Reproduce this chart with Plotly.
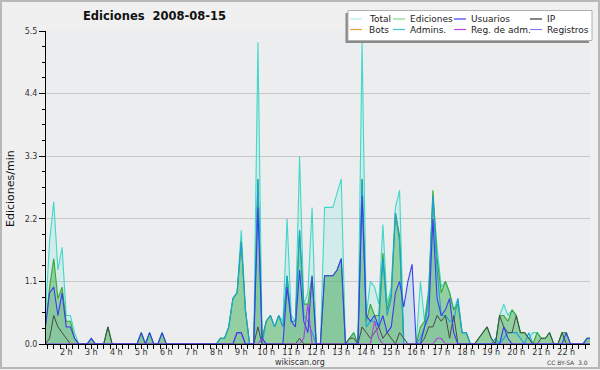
import plotly.graph_objects as go

# ---------------- data (edits per minute, 10-minute bins from 01:00 to 23:00) ----------------
# each row = one hour: [H:00, H:10, H:20, H:30, H:40, H:50]
total = [
    0, 0.5, 1.8, 2.5, 1.3, 1.7,      # 1 h
    0.5, 0.5, 0.2, 0, 0, 0,          # 2 h
    0.1, 0, 0, 0, 0.3, 0,            # 3 h
    0, 0, 0, 0, 0, 0,                # 4 h
    0.2, 0, 0.2, 0, 0, 0.2,          # 5 h
    0, 0, 0, 0, 0, 0,                # 6 h
    0, 0, 0, 0, 0, 0,                # 7 h
    0, 0.1, 0.1, 0.3, 0.8, 0.9,      # 8 h
    2.0, 0.6, 0, 0, 5.3, 0.1,        # 9 h
    0.4, 0.5, 0.3, 0.5, 0.4, 2.2,    # 10 h
    0.5, 0.4, 3.3, 0.7, 0.9, 2.4,    # 11 h
    0, 0, 2.4, 2.4, 2.4, 2.65,       # 12 h
    2.9, 0, 0.1, 0.2, 0, 5.3,        # 13 h
    0.5, 1.1, 1.0, 0.7, 2.1, 0.7,    # 14 h
    1.0, 2.4, 2.7, 0.1, 0, 0,        # 15 h
    0, 1.1, 0.4, 1.0, 2.6, 1.7,      # 16 h
    1.0, 1.1, 0.9, 0.6, 0.8, 0.2,    # 17 h
    0.2, 0, 0, 0.1, 0.2, 0.3,        # 18 h
    0.1, 0, 0.5, 0.7, 0.5, 0.6,      # 19 h
    0.5, 0.2, 0.2, 0.1, 0.2, 0.2,    # 20 h
    0.1, 0.1, 0.2, 0, 0, 0.2,        # 21 h
    0.2, 0, 0, 0, 0, 0.1,            # 22 h
    0.1,                             # 23 h
]
ediciones = [
    0, 0.3, 1.0, 1.5, 0.8, 1.0,
    0.4, 0.4, 0.1, 0, 0, 0,
    0.1, 0, 0, 0, 0.3, 0,
    0, 0, 0, 0, 0, 0,
    0.2, 0, 0.2, 0, 0, 0.2,
    0, 0, 0, 0, 0, 0,
    0, 0, 0, 0, 0, 0,
    0, 0.1, 0.1, 0.3, 0.8, 0.9,
    1.8, 0.6, 0, 0, 2.9, 0.1,
    0.4, 0.5, 0.3, 0.5, 0.3, 1.2,
    0.4, 0.4, 2.0, 0.7, 0.7, 1.2,
    0, 0, 1.2, 1.2, 1.2, 1.3,
    1.5, 0, 0.1, 0.2, 0, 2.9,
    0.4, 0.7, 0.5, 0.5, 1.6, 0.6,
    0.9, 2.3, 1.9, 0, 0, 0,
    0, 0.3, 0.4, 0.9, 2.7, 1.5,
    0.9, 1.1, 0.9, 0.6, 0.7, 0.2,
    0.2, 0, 0, 0.1, 0.2, 0.3,
    0.1, 0, 0.5, 0.5, 0.4, 0.6,
    0.5, 0.2, 0.2, 0.1, 0, 0.2,
    0.1, 0.1, 0.2, 0, 0, 0.2,
    0.2, 0, 0, 0, 0, 0.1,
    0.1,
]
usuarios = [
    0, 0.3, 0.9, 1.0, 0.5, 0.9,
    0.3, 0.3, 0.1, 0, 0, 0,
    0.1, 0, 0, 0, 0, 0,
    0, 0, 0, 0, 0, 0,
    0.2, 0, 0.2, 0, 0, 0.2,
    0, 0, 0, 0, 0, 0,
    0, 0, 0, 0, 0, 0,
    0, 0, 0, 0, 0, 0.2,
    0.2, 0, 0, 0, 2.4, 0.1,
    0, 0, 0, 0, 0, 1.0,
    0.4, 0.3, 1.3, 0.4, 0.2, 1.2,
    0, 0, 1.2, 1.2, 1.2, 1.3,
    1.5, 0, 0, 0, 0, 2.6,
    0.5, 0.4, 0.5, 0.3, 0.5, 0.2,
    0.3, 0.9, 1.1, 0.65, 1.1, 1.4,
    0, 0, 0.3, 0.5, 2.2, 0.8,
    0.5, 0.6, 0.8, 0.2, 0, 0,
    0, 0, 0, 0, 0, 0,
    0, 0, 0, 0.3, 0.1, 0,
    0, 0, 0, 0, 0, 0,
    0, 0, 0, 0, 0, 0,
    0.2, 0, 0, 0, 0, 0.1,
    0.1,
]
ip = [
    0, 0, 0.1, 0.5, 0.3, 0.2,
    0.1, 0, 0, 0, 0, 0,
    0, 0, 0, 0, 0.3, 0,
    0, 0, 0, 0, 0, 0,
    0, 0, 0, 0, 0, 0,
    0, 0, 0, 0, 0, 0,
    0, 0, 0, 0, 0, 0,
    0, 0, 0, 0, 0, 0,
    0, 0, 0, 0, 0.3, 0,
    0, 0, 0, 0, 0, 0,
    0, 0, 0.1, 0, 0, 0,
    0, 0, 0, 0, 0, 0,
    0, 0, 0.1, 0.1, 0, 0.3,
    0.2, 0.1, 0.2, 0.3, 0.1, 0.2,
    0.1, 0, 0.2, 0.1, 0, 0,
    0, 0, 0.1, 0.3, 0.3, 0.5,
    0.4, 0.5, 0.1, 0.5, 0, 0,
    0, 0, 0, 0.1, 0.2, 0.3,
    0.1, 0, 0.5, 0.3, 0.2, 0.2,
    0.5, 0.2, 0.2, 0.1, 0, 0,
    0.1, 0.1, 0.2, 0, 0, 0.2,
    0, 0, 0, 0, 0, 0,
    0,
]
admins = [
    0, 0, 0, 0, 0, 0,
    0, 0, 0, 0, 0, 0,
    0, 0, 0, 0, 0, 0,
    0, 0, 0, 0, 0, 0,
    0, 0, 0, 0, 0, 0,
    0, 0, 0, 0, 0, 0,
    0, 0, 0, 0, 0, 0,
    0, 0.1, 0.1, 0.3, 0.8, 0.9,
    1.8, 0.6, 0, 0, 2.9, 0,
    0.4, 0.5, 0.3, 0.5, 0.3, 1.2,
    0.4, 0.4, 2.0, 0.5, 0.4, 0.2,
    0, 0, 0, 0, 0, 0,
    0, 0, 0, 0, 0, 2.9,
    0.3, 0.4, 0.4, 0.3, 1.5, 0.5,
    0.8, 2.3, 1.8, 0, 0, 0,
    0, 0.1, 0.3, 0.8, 2.6, 1.3,
    0.5, 0.5, 0.4, 0.4, 0.8, 0.2,
    0.2, 0, 0, 0, 0, 0,
    0, 0.1, 0, 0.1, 0.2, 0.2,
    0.2, 0.1, 0, 0.2, 0, 0,
    0, 0, 0, 0, 0, 0,
    0, 0, 0, 0, 0, 0,
    0,
]
reg_adm = [
    0, 0, 0, 0, 0, 0,
    0, 0, 0, 0, 0, 0,
    0, 0, 0, 0, 0, 0,
    0, 0, 0, 0, 0, 0,
    0, 0, 0, 0, 0, 0,
    0, 0, 0, 0, 0, 0,
    0, 0, 0, 0, 0, 0,
    0, 0, 0, 0, 0, 0.2,
    0.2, 0, 0, 0, 0, 0.1,
    0, 0, 0, 0, 0, 0,
    0, 0, 0, 0.1, 0.7, 0,
    0, 0, 0, 0, 0, 0,
    0, 0, 0, 0, 0, 0,
    0, 0, 0.4, 0.1, 0, 0,
    0, 0, 0, 0, 0, 0,
    0, 0, 0, 0, 0, 0.1,
    0.1, 0, 0, 0, 0, 0,
    0, 0, 0, 0, 0, 0,
    0, 0, 0, 0, 0, 0,
    0, 0, 0, 0, 0, 0,
    0, 0, 0, 0, 0, 0,
    0, 0, 0, 0, 0, 0,
    0,
]

start_hour = 1.0
bin_hours = 1 / 6
hours = [start_hour + i * bin_hours for i in range(len(total))]

hour_ticks = list(range(2, 23))
hour_labels = [f"{h} h" for h in hour_ticks]
y_ticks = [0, 1.1, 2.2, 3.3, 4.4, 5.5]
y_labels = ["0.0", "1.1", "2.2", "3.3", "4.4", "5.5"]

legend_items = [
    ("Total", "#b4ecec"), ("Ediciones", "#88d888"), ("Usuarios", "#3c3cf0"), ("IP", "#333333"),
    ("Bots", "#f0a040"), ("Admins.", "#40c8d8"), ("Reg. de adm.", "#c040e0"), ("Registros", "#8080f0"),
]

# ---------------- layout helpers ----------------
W, H = 600, 370
L, R, T, B = 46, 10, 31, 26
PW, PH = W - L - R, H - T - B


def px(x):
    return (x - L) / PW


def py(y):
    return (H - B - y) / PH


FONT = "DejaVu Sans"
fig = go.Figure()

# filled areas
for vals, fc in [(total, "rgba(64,224,208,0.14)"),
                 (usuarios, "rgba(150,200,225,0.35)"),
                 (ediciones, "rgba(60,170,60,0.42)")]:
    fig.add_trace(go.Scatter(x=hours, y=vals, mode="lines", line=dict(width=0),
                             fill="tozeroy", fillcolor=fc, hoverinfo="skip", showlegend=False))

# lines
for name, vals, col, w in [("Total", total, "#40d8c8", 1.1),
                           ("Ediciones", ediciones, "#33aa33", 1.1),
                           ("Admins.", admins, "#1ea0d8", 1.1),
                           ("IP", ip, "#4a4a4a", 1.0),
                           ("Reg. de adm.", reg_adm, "#b040e0", 1.1),
                           ("Usuarios", usuarios, "#3c3cf0", 1.1)]:
    fig.add_trace(go.Scatter(x=hours, y=vals, mode="lines", name=name,
                             line=dict(color=col, width=w), showlegend=False))

shapes = []
annotations = []

# outer frame
shapes.append(dict(type="rect", xref="paper", yref="paper",
                   x0=px(1), x1=px(599), y0=py(1), y1=py(368),
                   line=dict(color="#b8b8b8", width=2), fillcolor="rgba(0,0,0,0)", layer="above"))

# legend box with shadow
shapes.append(dict(type="rect", xref="paper", yref="paper",
                   x0=px(345.5), x1=px(589), y0=py(13), y1=py(43),
                   line=dict(width=0), fillcolor="#8a8a8a", layer="above"))
shapes.append(dict(type="rect", xref="paper", yref="paper",
                   x0=px(348), x1=px(592), y0=py(10.5), y1=py(40.5),
                   line=dict(color="#b0b0b0", width=1), fillcolor="#ffffff", layer="above"))
col_sw = [350, 393, 454, 530]
col_tx = [366.5, 408, 469, 545]
row_y = [19, 29.5]
for k, (lab, col) in enumerate(legend_items):
    r, c = divmod(k, 4)
    yy = row_y[r]
    shapes.append(dict(type="line", xref="paper", yref="paper",
                       x0=px(col_sw[c]), x1=px(col_sw[c] + 12), y0=py(yy), y1=py(yy),
                       line=dict(color=col, width=1.2), layer="above"))
    annotations.append(dict(text=lab, xref="paper", yref="paper", x=px(col_tx[c]), y=py(yy),
                            xanchor="left", yanchor="middle", showarrow=False,
                            font=dict(family=FONT, size=9, color="#222222")))

# title
annotations.append(dict(text="<b>Ediciones  2008-08-15</b>", xref="paper", yref="paper",
                        x=px(154), y=py(16), xanchor="center", yanchor="middle", showarrow=False,
                        font=dict(family=FONT, size=11.5, color="#111111")))
# y axis title
annotations.append(dict(text="Ediciones/min", xref="paper", yref="paper", textangle=-90,
                        x=px(10), y=py(189), xanchor="center", yanchor="middle", showarrow=False,
                        font=dict(family=FONT, size=11, color="#111111")))
# footer texts
annotations.append(dict(text="wikiscan.org", xref="paper", yref="paper",
                        x=px(300), y=py(362), xanchor="center", yanchor="middle", showarrow=False,
                        font=dict(family=FONT, size=8, color="#333333")))
annotations.append(dict(text="CC BY-SA  3.0", xref="paper", yref="paper",
                        x=px(590), y=py(362), xanchor="right", yanchor="middle", showarrow=False,
                        font=dict(family=FONT, size=6, color="#444444")))

fig.update_layout(
    width=W, height=H,
    margin=dict(l=L, r=R, t=T, b=B, pad=0),
    paper_bgcolor="#f0f0f0",
    plot_bgcolor="#ecedef",
    showlegend=False,
    shapes=shapes,
    annotations=annotations,
    xaxis=dict(range=[1.19, 22.95], showgrid=False, zeroline=False,
               showline=True, linecolor="#000000", linewidth=1,
               ticks="outside", ticklen=4, tickcolor="#000000", tickwidth=1,
               tickmode="array", tickvals=hour_ticks, ticktext=hour_labels,
               ticklabelstandoff=-4,
               tickfont=dict(family=FONT, size=8, color="#333333"),
               minor=dict(tickmode="linear", tick0=0, dtick=0.25, ticks="outside",
                          ticklen=4, tickcolor="#000000", showgrid=False),
               fixedrange=True),
    yaxis=dict(range=[0, 5.5], zeroline=False,
               showgrid=True, gridcolor="#c8c8c8", gridwidth=1,
               showline=True, linecolor="#000000", linewidth=1,
               ticks="outside", ticklen=6, tickcolor="#000000", tickwidth=1,
               tickmode="array", tickvals=y_ticks, ticktext=y_labels,
               tickfont=dict(family=FONT, size=8, color="#333333"),
               minor=dict(tickmode="linear", tick0=0, dtick=0.275, ticks="outside",
                          ticklen=3, tickcolor="#000000", showgrid=False),
               fixedrange=True),
)

fig.write_html("out.html")
